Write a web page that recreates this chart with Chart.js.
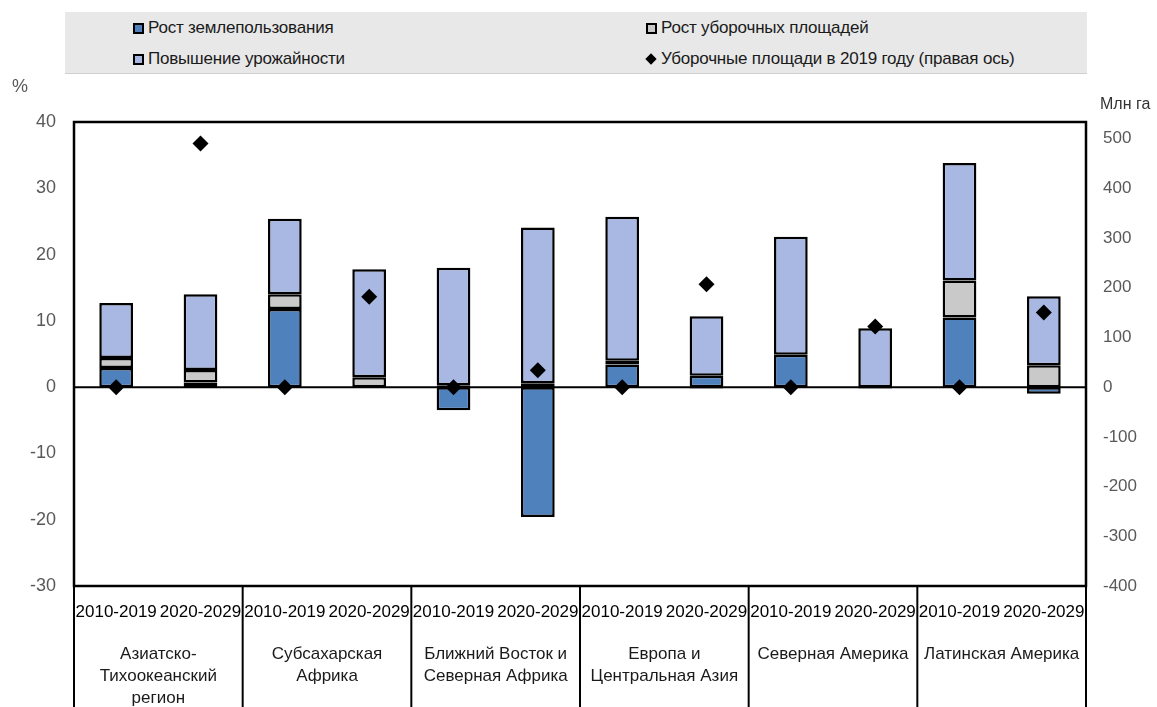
<!DOCTYPE html>
<html>
<head>
<meta charset="utf-8">
<script src="https://cdn.jsdelivr.net/npm/chart.js@4.4.1/dist/chart.umd.min.js"></script>
<style>
  html, body { margin:0; padding:0; background:#fff; }
  #wrap { position:relative; width:1157px; height:707px; font-family:"Liberation Sans", Arial, sans-serif; }
  #chartBox { position:absolute; left:0; top:0; width:1157px; height:707px; }
  #legend { position:absolute; left:65px; top:12px; width:1022px; height:61px; background:#e8e8e8; border-bottom:1px solid #cfcfcf; }
  .li { position:absolute; font-size:17px; color:#1a1a1a; line-height:20px; white-space:nowrap; letter-spacing:-0.2px; }
  .mk { position:absolute; width:7px; height:7px; border:2px solid #000; }
  .dm { position:absolute; width:8px; height:8px; background:#000; transform:rotate(45deg); }
  .unit { position:absolute; font-size:18px; color:#595959; white-space:nowrap; }
</style>
</head>
<body>
<div id="wrap">
  <div id="chartBox"><canvas id="c"></canvas></div>
  <div id="legend"></div>
  <div class="unit" style="left:12px; top:76px;">%</div>
  <div class="unit" style="left:1100px; top:95px; font-size:16px; color:#333;">Млн га</div>
</div>
<script>
// ---- Data ----
const periods = ['2010-2019','2020-2029','2010-2019','2020-2029','2010-2019','2020-2029','2010-2019','2020-2029','2010-2019','2020-2029','2010-2019','2020-2029'];
const regions = [
  ['Азиатско-','Тихоокеанский','регион'],
  ['Субсахарская','Африка'],
  ['Ближний Восток и','Северная Африка'],
  ['Европа и','Центральная Азия'],
  ['Северная Америка'],
  ['Латинская Америка']
];
const landUseGrowth   = [2.9, 0.7, 11.8, 0.0, -3.5, -19.6, 3.4, 1.7, 4.9, -0.2, 10.5, -1.0];
const harvestGrowth   = [1.5, 1.9, 2.2, 1.5, 0.3, 0.6, 0.6, -0.2, 0.0, 0.0, 5.6, 3.3];
const yieldGrowth     = [8.3, 11.4, 11.4, 16.3, 17.7, 23.5, 21.7, 9.0, 17.8, 8.9, 17.7, 10.4];
const harvested2019   = [0, 490, 0, 182, 0, 34, 0, 207, 0, 122, 0, 150];
const leftTicks  = [-30, -20, -10, 0, 10, 20, 30, 40];
const rightTicks = [-400, -300, -200, -100, 0, 100, 200, 300, 400, 500];
const legendLabels = ['Рост землепользования','Рост уборочных площадей','Повышение урожайности','Уборочные площади в 2019 году (правая ось)'];

const COL_LAND = '#4f81bd', COL_HARV = '#c9c9c9', COL_YIELD = '#a9b8e2';

// ---- HTML legend ----
(function(){
  const lg = document.getElementById('legend');
  const items = [
    {x:68, y:16, t:legendLabels[0], c:COL_LAND},
    {x:581, y:16, t:legendLabels[1], c:COL_HARV},
    {x:68, y:47, t:legendLabels[2], c:COL_YIELD},
    {x:581, y:47, t:legendLabels[3], c:null}
  ];
  items.forEach(it=>{
    if (it.c) {
      const m = document.createElement('div'); m.className='mk';
      m.style.left = it.x+'px'; m.style.top = (it.y-5)+'px'; m.style.background = it.c;
      lg.appendChild(m);
    } else {
      const m = document.createElement('div'); m.className='dm';
      m.style.left = (it.x+1)+'px'; m.style.top = (it.y-4)+'px';
      lg.appendChild(m);
    }
    const s = document.createElement('div'); s.className='li';
    s.style.left = (it.x+15)+'px'; s.style.top = (it.y-10)+'px'; s.textContent = it.t;
    lg.appendChild(s);
  });
})();

// ---- Decorations plugin ----
const decor = {
  id:'decor',
  beforeDatasetsDraw(chart){
    const {ctx, chartArea:a, scales} = chart;
    const y0 = scales.y.getPixelForValue(0);
    ctx.save();
    ctx.strokeStyle = '#000'; ctx.lineWidth = 2;
    ctx.beginPath(); ctx.moveTo(a.left, y0); ctx.lineTo(a.right, y0); ctx.stroke();
    ctx.restore();
  },
  afterDraw(chart){
    const {ctx, chartArea:a, scales} = chart;
    const x = scales.x;
    ctx.save();
    ctx.strokeStyle = '#000'; ctx.lineWidth = 2.5;
    ctx.strokeRect(a.left, a.top, a.right-a.left, a.bottom-a.top);
    ctx.lineWidth = 2;
    const H = chart.height;
    const n = periods.length;
    const step = (a.right - a.left) / n;
    for (let g = 0; g <= regions.length; g++) {
      let px = a.left + step*2*g;
      ctx.beginPath(); ctx.moveTo(px, a.bottom); ctx.lineTo(px, H); ctx.stroke();
    }
    ctx.fillStyle = '#1a1a1a';
    ctx.font = '17px "Liberation Sans", Arial, sans-serif';
    ctx.textAlign = 'center'; ctx.textBaseline = 'middle';
    regions.forEach((lines, g)=>{
      const cx = (x.getPixelForValue(2*g) + x.getPixelForValue(2*g+1)) / 2;
      lines.forEach((t, i)=>{ ctx.fillText(t, cx, 654 + i*22); });
    });
    ctx.restore();
  }
};

const barCommon = { borderColor:'#000', borderWidth:2.5, borderSkipped:false, barPercentage:0.4, categoryPercentage:1, order:1, yAxisID:'y' };

new Chart(document.getElementById('c'), {
  data: {
    labels: periods,
    datasets: [
      Object.assign({type:'bar', label:legendLabels[0], data:landUseGrowth, backgroundColor:COL_LAND}, barCommon),
      Object.assign({type:'bar', label:legendLabels[1], data:harvestGrowth, backgroundColor:COL_HARV}, barCommon),
      Object.assign({type:'bar', label:legendLabels[2], data:yieldGrowth, backgroundColor:COL_YIELD}, barCommon),
      { type:'line', label:legendLabels[3], data:harvested2019, yAxisID:'y1', showLine:false,
        pointStyle:'rectRot', pointRadius:8, pointHoverRadius:8, pointBackgroundColor:'#000', pointBorderColor:'#000', pointBorderWidth:0, order:0 }
    ]
  },
  options: {
    responsive:true, maintainAspectRatio:false, animation:false,
    layout:{ padding:{ top:122, left:0, right:0, bottom:0 } },
    plugins:{ legend:{display:false}, tooltip:{enabled:false}, title:{display:false} },
    scales:{
      x:{
        stacked:true,
        grid:{display:false, drawTicks:false},
        border:{display:false},
        ticks:{ autoSkip:false, maxRotation:0, minRotation:0, padding:16, color:'#000',
                font:{family:'"Liberation Sans", Arial, sans-serif', size:17} },
        afterFit(s){ s.height = 121; }
      },
      y:{
        position:'left', stacked:true, min:-30, max:40,
        grid:{display:false, drawTicks:false}, border:{display:false},
        afterBuildTicks(s){ s.ticks = leftTicks.map(v=>({value:v})); },
        ticks:{ padding:18, color:'#595959', font:{family:'"Liberation Sans", Arial, sans-serif', size:18} },
        afterFit(s){ s.width = 74; }
      },
      y1:{
        position:'right', min:-400, max:533.333,
        grid:{display:false, drawTicks:false}, border:{display:false},
        afterBuildTicks(s){ s.ticks = rightTicks.map(v=>({value:v})); },
        ticks:{ padding:17, color:'#595959', font:{family:'"Liberation Sans", Arial, sans-serif', size:17} },
        afterFit(s){ s.width = 71; }
      }
    }
  },
  plugins:[decor]
});
</script>
</body>
</html>
